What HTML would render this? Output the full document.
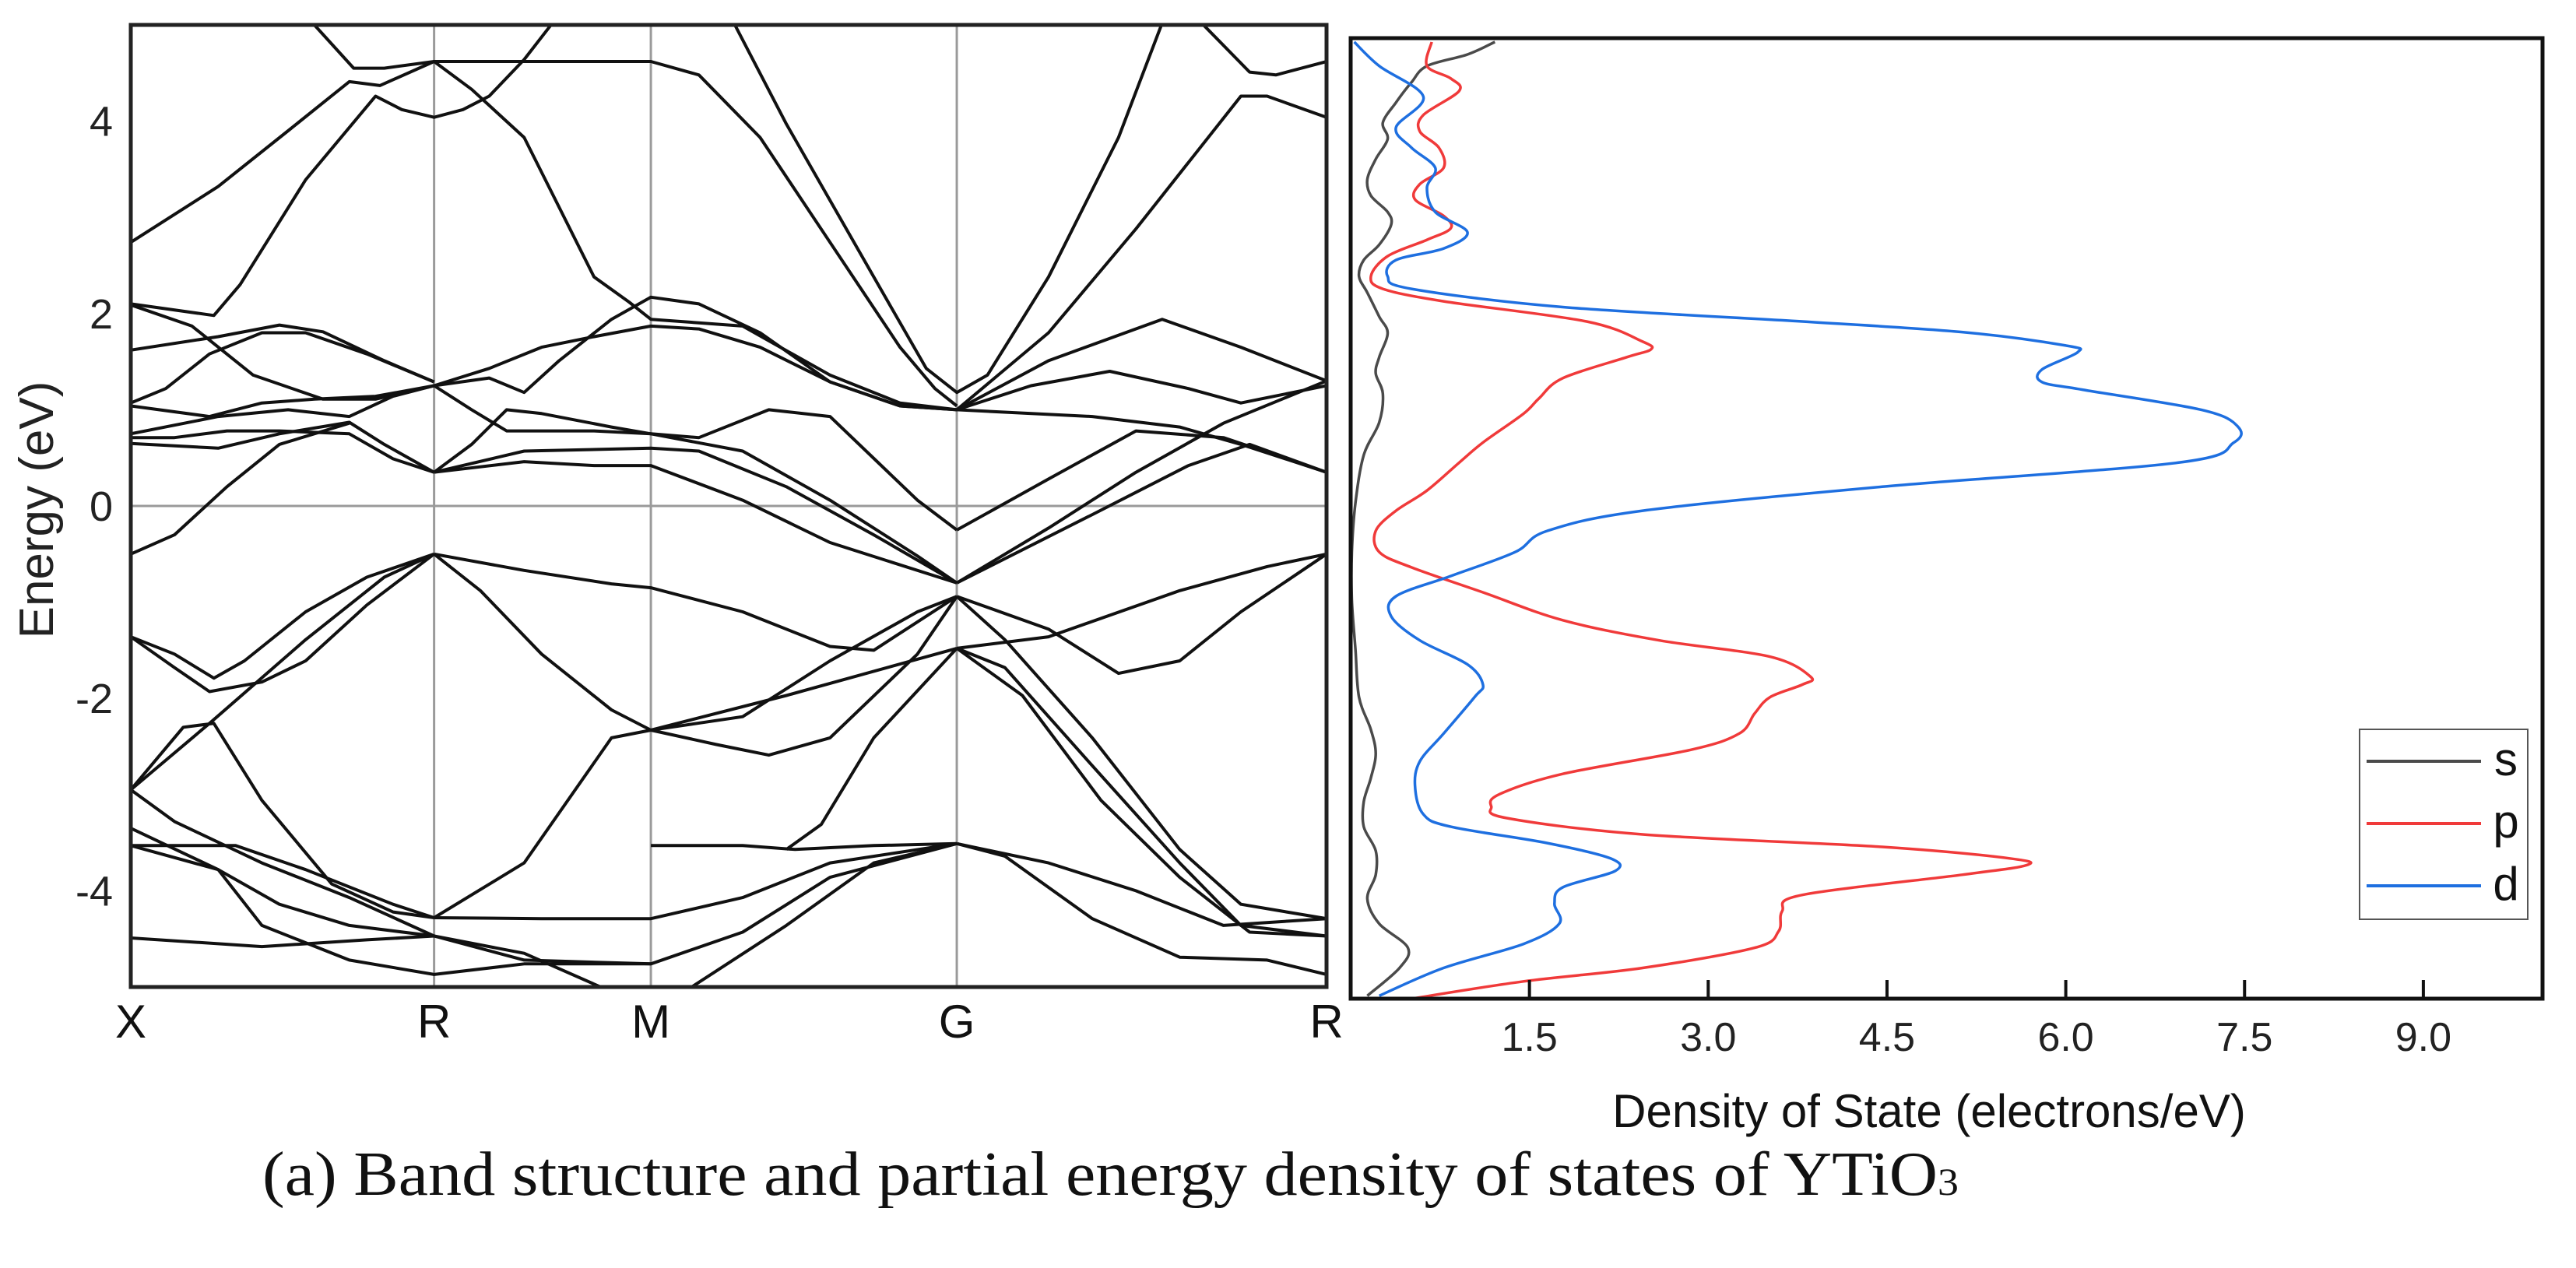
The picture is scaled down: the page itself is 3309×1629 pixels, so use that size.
<!DOCTYPE html>
<html><head><meta charset="utf-8"><style>
html,body{margin:0;padding:0;background:#fff;}
svg{display:block;}
</style></head><body>
<svg id="chart" width="3309" height="1629" viewBox="0 0 3309 1629" xmlns="http://www.w3.org/2000/svg">
<g id="band"></g>
<g id="dos"></g>
<text x="337" y="1535" font-family="Liberation Serif, serif" font-size="80" fill="#111" textLength="2179" lengthAdjust="spacingAndGlyphs">(a)  Band structure and partial energy density of states of YTiO<tspan font-size="50">3</tspan></text>
</svg>
<script>
// ---- Band structure data (k along path X-R-M-G-R, energies in eV) ----
const kLabels = ["X","R","M","G","R"];
const kPoints = [0,347,595,945,1368];
const eTicks = [4,2,0,-2,-4];
const bandK = [
[0,100,180,250,285,347,390,450,530,570,595,700,800,880,945],
[0,95,125,200,280,310,347,380,410,450,480],
[210,255,290,347,440,595,650,720,800,880,920,945],
[690,750,850,910,945,980,1050,1130,1180],
[945,1050,1150,1270,1300,1368],
[1225,1280,1310,1368],
[0,70,140,220,280,347],
[0,100,170,220,290,347],
[0,40,90,150,200,270,347],
[0,90,150,210,280,347],
[0,100,180,250,300,347],
[0,100,170,250,290,347],
[0,50,110,170,250,300,347],
[0,50,110,170,250],
[347,410,470,530,595,650,720,800,880,945],
[347,410,450,490,550,595,650,720,800,880,945],
[347,390,430,470,530,595,700,800,900,945],
[347,390,430,470,550,595,650,730,800,900,945],
[347,450,530,595,700,800,945],
[347,450,595,650,750,850,945],
[945,1100,1200,1270,1368],
[945,1050,1180,1270,1368],
[945,1030,1120,1210,1270,1368],
[945,1050,1150,1250,1368],
[945,1050,1150,1250,1368],
[945,1100,1210,1280,1368],
[945,1050,1130,1200,1270,1368],
[945,1050,1200,1300,1368],
[0,50,95,130,200,270,347],
[0,50,90,150,200,270,347],
[0,90,200,290,347],
[347,450,550,595,700,800,850,945],
[347,400,470,550,595],
[595,700,800,900,945],
[595,670,730,800,900,945],
[595,750,945],
[945,1000,1100,1200,1270,1368],
[945,1020,1110,1200,1280,1368],
[945,1000,1100,1200,1270,1368],
[0,60,95,150,230,300,347],
[0,50,150,250,347],
[0,100,170,250,347],
[0,120,200,300,347],
[0,150,270,347,450,595],
[0,100,150,250,347,450,595,700,800,945],
[347,470,595,700,800,945],
[347,450,550,595],
[347,450,540],
[640,750,850,945],
[595,700,760,850,945],
[750,790,850,945],
[945,1050,1150,1250,1368],
[945,1000,1100,1200,1300,1368]
];
const bandE = [
[2.74,3.32,3.90,4.41,4.37,4.62,4.33,3.83,2.38,2.12,1.94,1.87,1.36,1.07,1.00],
[2.10,1.98,2.30,3.39,4.26,4.12,4.04,4.12,4.26,4.64,4.99],
[5.0,4.55,4.55,4.62,4.62,4.62,4.48,3.83,2.74,1.65,1.22,1.04],
[5.02,3.97,2.38,1.43,1.18,1.36,2.38,3.83,5.02],
[1.00,1.80,2.88,4.26,4.26,4.04],
[5.02,4.51,4.48,4.62],
[2.09,1.87,1.36,1.11,1.11,1.25],
[1.62,1.76,1.88,1.81,1.51,1.29],
[1.07,1.22,1.58,1.80,1.80,1.58,1.29],
[1.04,0.93,1.07,1.11,1.14,1.25],
[0.75,0.93,1.00,0.93,1.14,1.25],
[0.65,0.60,0.75,0.87,0.64,0.35],
[0.71,0.71,0.78,0.78,0.75,0.49,0.35],
[-0.50,-0.30,0.20,0.64,0.86],
[1.25,1.43,1.65,1.76,1.87,1.84,1.65,1.29,1.04,1.00],
[1.25,1.33,1.18,1.51,1.94,2.17,2.10,1.80,1.29,1.04,1.00],
[1.25,1.00,0.78,0.78,0.78,0.75,0.57,0.06,-0.52,-0.80],
[0.35,0.64,1.00,0.96,0.82,0.75,0.71,1.00,0.93,0.06,-0.25],
[0.35,0.46,0.42,0.42,0.06,-0.38,-0.80],
[0.35,0.57,0.60,0.57,0.20,-0.30,-0.80],
[1.00,0.93,0.82,0.64,0.35],
[1.00,1.51,1.94,1.65,1.30],
[1.00,1.25,1.40,1.22,1.07,1.25],
[-0.25,0.28,0.78,0.71,0.35],
[-0.80,-0.23,0.35,0.86,1.30],
[-0.80,-0.09,0.42,0.64,0.35],
[-0.94,-1.28,-1.74,-1.61,-1.10,-0.50],
[-1.48,-1.36,-0.88,-0.63,-0.50],
[-1.36,-1.54,-1.79,-1.61,-1.10,-0.74,-0.50],
[-1.36,-1.68,-1.93,-1.83,-1.61,-1.03,-0.50],
[-2.95,-2.26,-1.39,-0.74,-0.50],
[-0.50,-0.67,-0.81,-0.85,-1.10,-1.46,-1.50,-0.94],
[-0.50,-0.88,-1.54,-2.12,-2.33],
[-2.33,-2.19,-1.61,-1.10,-0.94],
[-2.33,-2.48,-2.59,-2.41,-1.54,-0.94],
[-2.33,-1.97,-1.48],
[-0.94,-1.39,-2.41,-3.57,-4.14,-4.29],
[-1.48,-1.97,-3.06,-3.86,-4.43,-4.47],
[-1.48,-1.68,-2.70,-3.71,-4.36,-4.47],
[-2.95,-2.30,-2.26,-3.06,-3.93,-4.22,-4.28],
[-2.95,-3.28,-3.71,-4.07,-4.47],
[-3.35,-3.78,-4.14,-4.36,-4.47],
[-3.53,-3.53,-3.78,-4.14,-4.28],
[-4.49,-4.58,-4.51,-4.47,-4.72,-4.76],
[-3.53,-3.78,-4.36,-4.72,-4.87,-4.76,-4.76,-4.43,-3.86,-3.51],
[-4.28,-4.29,-4.29,-4.07,-3.71,-3.51],
[-4.28,-3.71,-2.41,-2.33],
[-4.47,-4.65,-5.01],
[-5.01,-4.36,-3.71,-3.51],
[-3.53,-3.53,-3.57,-3.53,-3.51],
[-3.57,-3.31,-2.41,-1.48],
[-3.51,-3.71,-4.00,-4.36,-4.29],
[-3.51,-3.64,-4.29,-4.69,-4.72,-4.87]
];
// ---- DOS data (energy eV, states/eV) ----
const dosTicks = [1.5,3.0,4.5,6.0,7.5,9.0];
const sE = [4.96,4.83,4.71,4.54,4.33,4.12,3.95,3.74,3.53,3.36,3.19,3.06,2.85,2.69,2.52,2.35,2.10,1.93,1.68,1.51,1.30,1.00,0.66,0.16,-0.35,-0.85,-1.36,-1.86,-2.20,-2.45,-2.70,-2.95,-3.21,-3.46,-3.71,-3.96,-4.22,-4.47,-4.68,-4.97];
const sDos = [1.21,0.98,0.64,0.51,0.38,0.27,0.31,0.21,0.14,0.17,0.31,0.34,0.24,0.11,0.07,0.14,0.24,0.31,0.24,0.21,0.27,0.24,0.11,0.04,0.01,0.01,0.04,0.07,0.17,0.21,0.17,0.11,0.11,0.21,0.21,0.14,0.24,0.48,0.41,0.14];
const pE = [4.96,4.71,4.58,4.45,4.20,4.03,3.86,3.65,3.48,3.32,3.15,3.02,2.90,2.73,2.52,2.39,2.26,2.05,1.84,1.76,1.68,1.46,1.25,1.09,0.79,0.58,0.29,0.08,-0.13,-0.35,-0.51,-0.77,-1.06,-1.27,-1.44,-1.65,-1.73,-1.86,-2.03,-2.24,-2.41,-2.66,-2.87,-3.00,-3.12,-3.29,-3.42,-3.54,-3.61,-3.71,-3.92,-4.09,-4.30,-4.47,-4.68,-4.82,-5.00];
const pDos = [0.68,0.64,0.84,0.91,0.61,0.58,0.74,0.78,0.58,0.54,0.78,0.84,0.64,0.31,0.17,0.27,0.78,1.98,2.45,2.52,2.32,1.78,1.58,1.45,1.11,0.91,0.64,0.38,0.21,0.24,0.51,1.11,1.78,2.59,3.52,3.86,3.79,3.52,3.39,3.26,2.85,1.78,1.25,1.18,1.31,2.45,4.46,5.53,5.67,5.13,3.79,3.62,3.59,3.39,2.45,1.45,0.51];
const dE = [4.96,4.71,4.39,4.07,3.86,3.65,3.44,3.19,2.98,2.81,2.69,2.52,2.39,2.20,2.05,1.94,1.80,1.73,1.55,1.42,1.34,1.13,0.96,0.79,0.58,0.33,0.08,-0.13,-0.35,-0.60,-0.81,-1.02,-1.27,-1.52,-1.73,-1.86,-2.24,-2.53,-2.79,-3.08,-3.21,-3.38,-3.54,-3.67,-3.84,-4.01,-4.22,-4.43,-4.68,-4.97];
const dDos = [0.03,0.24,0.61,0.38,0.51,0.71,0.64,0.71,0.98,0.78,0.38,0.31,0.51,1.78,3.79,5.13,6.00,6.10,5.80,5.80,6.14,7.14,7.44,7.41,6.94,4.46,2.45,1.65,1.38,0.84,0.38,0.34,0.58,0.98,1.11,1.04,0.78,0.58,0.54,0.61,0.84,1.65,2.18,2.22,1.78,1.71,1.75,1.45,0.78,0.24];

const NS = "http://www.w3.org/2000/svg";
function mk(tag, attrs, parent){ const e=document.createElementNS(NS,tag); for(const k in attrs) e.setAttribute(k,attrs[k]); parent.appendChild(e); return e; }
const FONT = "Liberation Sans, Arial, sans-serif";

// ---- Band plot ----
const B = {l:168,r:1704,t:32,b:1268};
const kMax = kPoints[kPoints.length-1];
const bx = k => B.l + (k/kMax)*(B.r-B.l);
const by = e => B.t + (5-e)/10*(B.b-B.t);
const band = document.getElementById('band');
const defs = mk('defs',{},band);
const cp = mk('clipPath',{id:'bandClip'},defs);
mk('rect',{x:B.l,y:B.t,width:B.r-B.l,height:B.b-B.t},cp);
const cp2 = mk('clipPath',{id:'dosClip'},defs);
mk('rect',{x:1735,y:49,width:1531,height:1234},cp2);

kPoints.forEach((k,i)=>{
  if(i>0 && i<kPoints.length-1){
    const g = mk('line',{x1:bx(k),x2:bx(k),y1:B.t,y2:B.b,stroke:'#9a9a9a','stroke-width':3},band);
    
    
  }
  const t = mk('text',{x:bx(k),y:1333,'text-anchor':'middle','font-family':FONT,'font-size':60,fill:'#111'},band);
  t.textContent = kLabels[i];
  
  
});
const zl = mk('line',{x1:B.l,x2:B.r,y1:by(0),y2:by(0),stroke:'#9a9a9a','stroke-width':3},band);


eTicks.forEach(e=>{
  const t = mk('text',{x:145,y:by(e)+19,'text-anchor':'end','font-family':FONT,'font-size':54,fill:'#222'},band);
  t.textContent = e;
  
  
});
const yt = mk('text',{x:0,y:0,transform:'translate(68,655) rotate(-90)','text-anchor':'middle','font-family':FONT,'font-size':62,fill:'#222'},band);
yt.textContent = 'Energy (eV)';


const bg = mk('g',{'clip-path':'url(#bandClip)'},band);
bandK.forEach((ks,i)=>{
  const d = ks.map((k,j)=>(j?'L':'M')+bx(k).toFixed(1)+' '+by(bandE[i][j]).toFixed(1)).join(' ');
  const p = mk('path',{d:d,fill:'none',stroke:'#111','stroke-width':4,'stroke-linejoin':'round'},bg);
  
  
});
const bf = mk('rect',{x:B.l,y:B.t,width:B.r-B.l,height:B.b-B.t,fill:'none',stroke:'#222','stroke-width':5},band);



// ---- DOS plot ----
const D = {l:1735,r:3266,t:49,b:1283};
const dx = v => D.l + v/10*(D.r-D.l);
const dy = e => D.t + (5-e)/10*(D.b-D.t);
const dos = document.getElementById('dos');
function smooth(xs, ys){
  const pts = xs.map((x,i)=>[x,ys[i]]);
  let d = 'M'+pts[0][0].toFixed(1)+' '+pts[0][1].toFixed(1);
  for(let i=0;i<pts.length-1;i++){
    const p0=pts[Math.max(0,i-1)],p1=pts[i],p2=pts[i+1],p3=pts[Math.min(pts.length-1,i+2)];
    const c1=[p1[0]+(p2[0]-p0[0])/6,p1[1]+(p2[1]-p0[1])/6];
    const c2=[p2[0]-(p3[0]-p1[0])/6,p2[1]-(p3[1]-p1[1])/6];
    d+=' C'+c1[0].toFixed(1)+' '+c1[1].toFixed(1)+' '+c2[0].toFixed(1)+' '+c2[1].toFixed(1)+' '+p2[0].toFixed(1)+' '+p2[1].toFixed(1);
  }
  return d;
}
const dg = mk('g',{'clip-path':'url(#dosClip)'},dos);
const series = [["s",sE,sDos,"#4a4a4a"],["p",pE,pDos,"#f03a3a"],["d",dE,dDos,"#1e6fe0"]];
series.forEach(s=>{
  const p = mk('path',{d:smooth(s[2].map(dx),s[1].map(dy)),fill:'none',stroke:s[3],'stroke-width':3.5},dg);
  
  
});
dosTicks.forEach(v=>{
  const tk = mk('line',{x1:dx(v),x2:dx(v),y1:D.b,y2:D.b-24,stroke:'#111','stroke-width':4},dos);
  
  
  const t = mk('text',{x:dx(v),y:1350,'text-anchor':'middle','font-family':FONT,'font-size':52,fill:'#222'},dos);
  t.textContent = v.toFixed(1);
  
  
});
const xt = mk('text',{x:2478,y:1448,'text-anchor':'middle','font-family':FONT,'font-size':60,fill:'#111'},dos);
xt.textContent = 'Density of State (electrons/eV)';


const df = mk('rect',{x:D.l,y:D.t,width:D.r-D.l,height:D.b-D.t,fill:'none',stroke:'#111','stroke-width':5},dos);


// legend
const lg = mk('g',{},dos);


mk('rect',{x:3031,y:937,width:216,height:244,fill:'#fff',stroke:'#555','stroke-width':2},lg);
series.forEach((s,i)=>{
  const y = 978 + i*80;
  const ln = mk('line',{x1:3040,x2:3187,y1:y,y2:y,stroke:s[3],'stroke-width':4},lg);
  
  
  const t = mk('text',{x:3219,y:y+18,'text-anchor':'middle','font-family':FONT,'font-size':60,fill:'#111'},lg);
  t.textContent = s[0];
  
  
});
</script>
</body></html>
